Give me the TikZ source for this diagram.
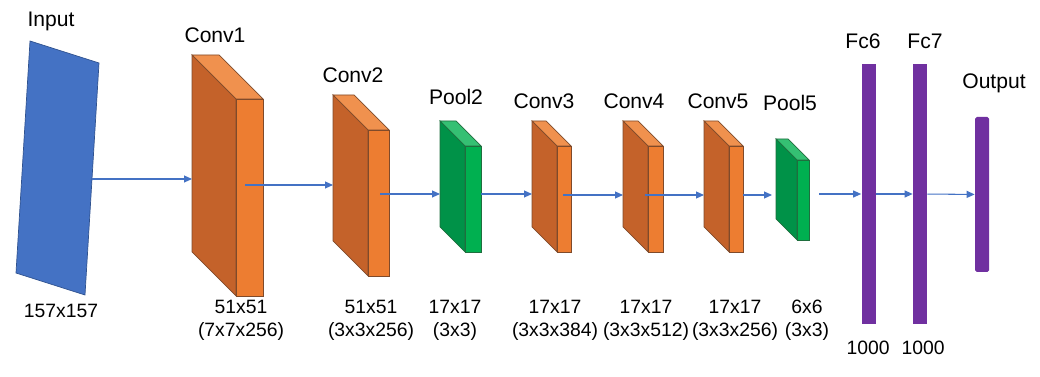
\documentclass[tikz,border=0pt]{standalone}
\usepackage{fontspec}
\setmainfont{Liberation Sans}
\usetikzlibrary{arrows.meta}

\definecolor{inblue}{HTML}{4472C4}
\definecolor{inedge}{HTML}{2F528F}
\definecolor{orfront}{HTML}{ED7D31}
\definecolor{orside}{HTML}{C4622A}
\definecolor{ortop}{HTML}{F0914E}
\definecolor{oredge}{HTML}{7F4A2A}
\definecolor{grfront}{HTML}{00B050}
\definecolor{grside}{HTML}{009248}
\definecolor{grtop}{HTML}{35C073}
\definecolor{gredge}{HTML}{1F6E3E}
\definecolor{fcpurple}{HTML}{7030A0}

% 3D layer block: name, x, y (top left of side face), front width, height, depth, colour set
\newcommand{\block}[7]{
  \fill[#7side, draw=#7edge, line width=0.4pt] (#2,#3) -- ++(#6,#6) -- ++(0,#5) -- ++(-#6,-#6) -- cycle;
  \fill[#7top, draw=#7edge, line width=0.4pt] (#2,#3) -- ++(#4,0) -- ++(#6,#6) -- ++(-#4,0) -- cycle;
  \node[draw=#7edge, fill=#7front, line width=0.4pt, inner sep=0pt, minimum width=#4*0.02cm,
        minimum height=#5*0.02cm, anchor=north west] (#1) at (#2+#6,#3+#6) {};
}

\begin{document}
\begin{tikzpicture}[x=0.02cm, y=-0.02cm,
  title/.style={font=\fontsize{12}{14}\selectfont},
  dims/.style={font=\fontsize{11}{13}\selectfont, align=center},
  fc/.style={fill=fcpurple, inner sep=0pt, minimum width=14*0.02cm},
  link/.style={-{Triangle[length=1.6mm,width=1.4mm]}, draw=inblue, line width=0.6pt}
]
  \useasboundingbox (0,0) rectangle (1040,377);

  % input image
  \fill[inblue, draw=inedge, line width=0.4pt] (30,41) -- (99,63) -- (85,295) -- (16,273) -- cycle;

  \block{conv1}{192}{55}{27}{197}{44}{or}
  \block{conv2}{333}{95}{21}{146}{35}{or}
  \block{pool2}{440}{121}{16}{106}{25}{gr}
  \block{conv3}{532}{121}{14}{106}{25}{or}
  \block{conv4}{623}{121}{15}{106}{25}{or}
  \block{conv5}{704}{121}{14}{106}{25}{or}
  \block{pool5}{776}{139}{12}{80}{21}{gr}

  \node[fc, minimum height=260*0.02cm] (fc6) at (868.5,194) {};
  \node[fc, minimum height=260*0.02cm] (fc7) at (920,194) {};
  \node[fc, minimum height=155*0.02cm, rounded corners=1pt] (out) at (982,194.5) {};

  % titles
  \node[title] (t-in) at (51,21) {Input};
  \node[title] (t-c1) at (215,35) {Conv1};
  \node[title] (t-c2) at (353,75) {Conv2};
  \node[title] (t-p2) at (456,97) {Pool2};
  \node[title] (t-c3) at (544,101) {Conv3};
  \node[title] (t-c4) at (634,101) {Conv4};
  \node[title] (t-c5) at (718,101) {Conv5};
  \node[title] (t-p5) at (790,103) {Pool5};
  \node[title] (t-f6) at (863,41) {Fc6};
  \node[title] (t-f7) at (925,41) {Fc7};
  \node[title] (t-out) at (994,83) {Output};

  % sizes
  \node[dims] (d-in) at (61,311) {157x157};
  \node[dims] (d-c1) at (241,320) {51x51\\(7x7x256)};
  \node[dims] (d-c2) at (371,320) {51x51\\(3x3x256)};
  \node[dims] (d-p2) at (455,320) {17x17\\(3x3)};
  \node[dims] (d-c3) at (555,320) {17x17\\(3x3x384)};
  \node[dims] (d-c4) at (646,320) {17x17\\(3x3x512)};
  \node[dims] (d-c5) at (735,320) {17x17\\(3x3x256)};
  \node[dims] (d-p5) at (807,320) {6x6\\(3x3)};
  \node[dims] (d-f6) at (868,348) {1000};
  \node[dims] (d-f7) at (923,348) {1000};

  % arrow ends
  \coordinate (in-o) at (92,179);   \coordinate (c1-i) at (192,179);
  \coordinate (c1-o) at (245,185);  \coordinate (c2-i) at (333,185);
  \coordinate (c2-o) at (380,194);  \coordinate (p2-i) at (440,194);
  \coordinate (p2-o) at (481,194);  \coordinate (c3-i) at (532,194);
  \coordinate (c3-o) at (563,195);  \coordinate (c4-i) at (623,195);
  \coordinate (c4-o) at (645,195);  \coordinate (c5-i) at (704,195);
  \coordinate (c5-o) at (743,195);  \coordinate (p5-i) at (772,195);
  \coordinate (p5-o) at (819,194);

  \draw[link] (in-o) -- (c1-i);
  \draw[link] (c1-o) -- (c2-i);
  \draw[link] (c2-o) -- (p2-i);
  \draw[link] (p2-o) -- (c3-i);
  \draw[link] (c3-o) -- (c4-i);
  \draw[link] (c4-o) -- (c5-i);
  \draw[link] (c5-o) -- (p5-i);
  \draw[link] (p5-o) -- (fc6);
  \draw[link] (fc6) -- (fc7);
  \draw[link] (fc7) -- (out);
\end{tikzpicture}
\end{document}
